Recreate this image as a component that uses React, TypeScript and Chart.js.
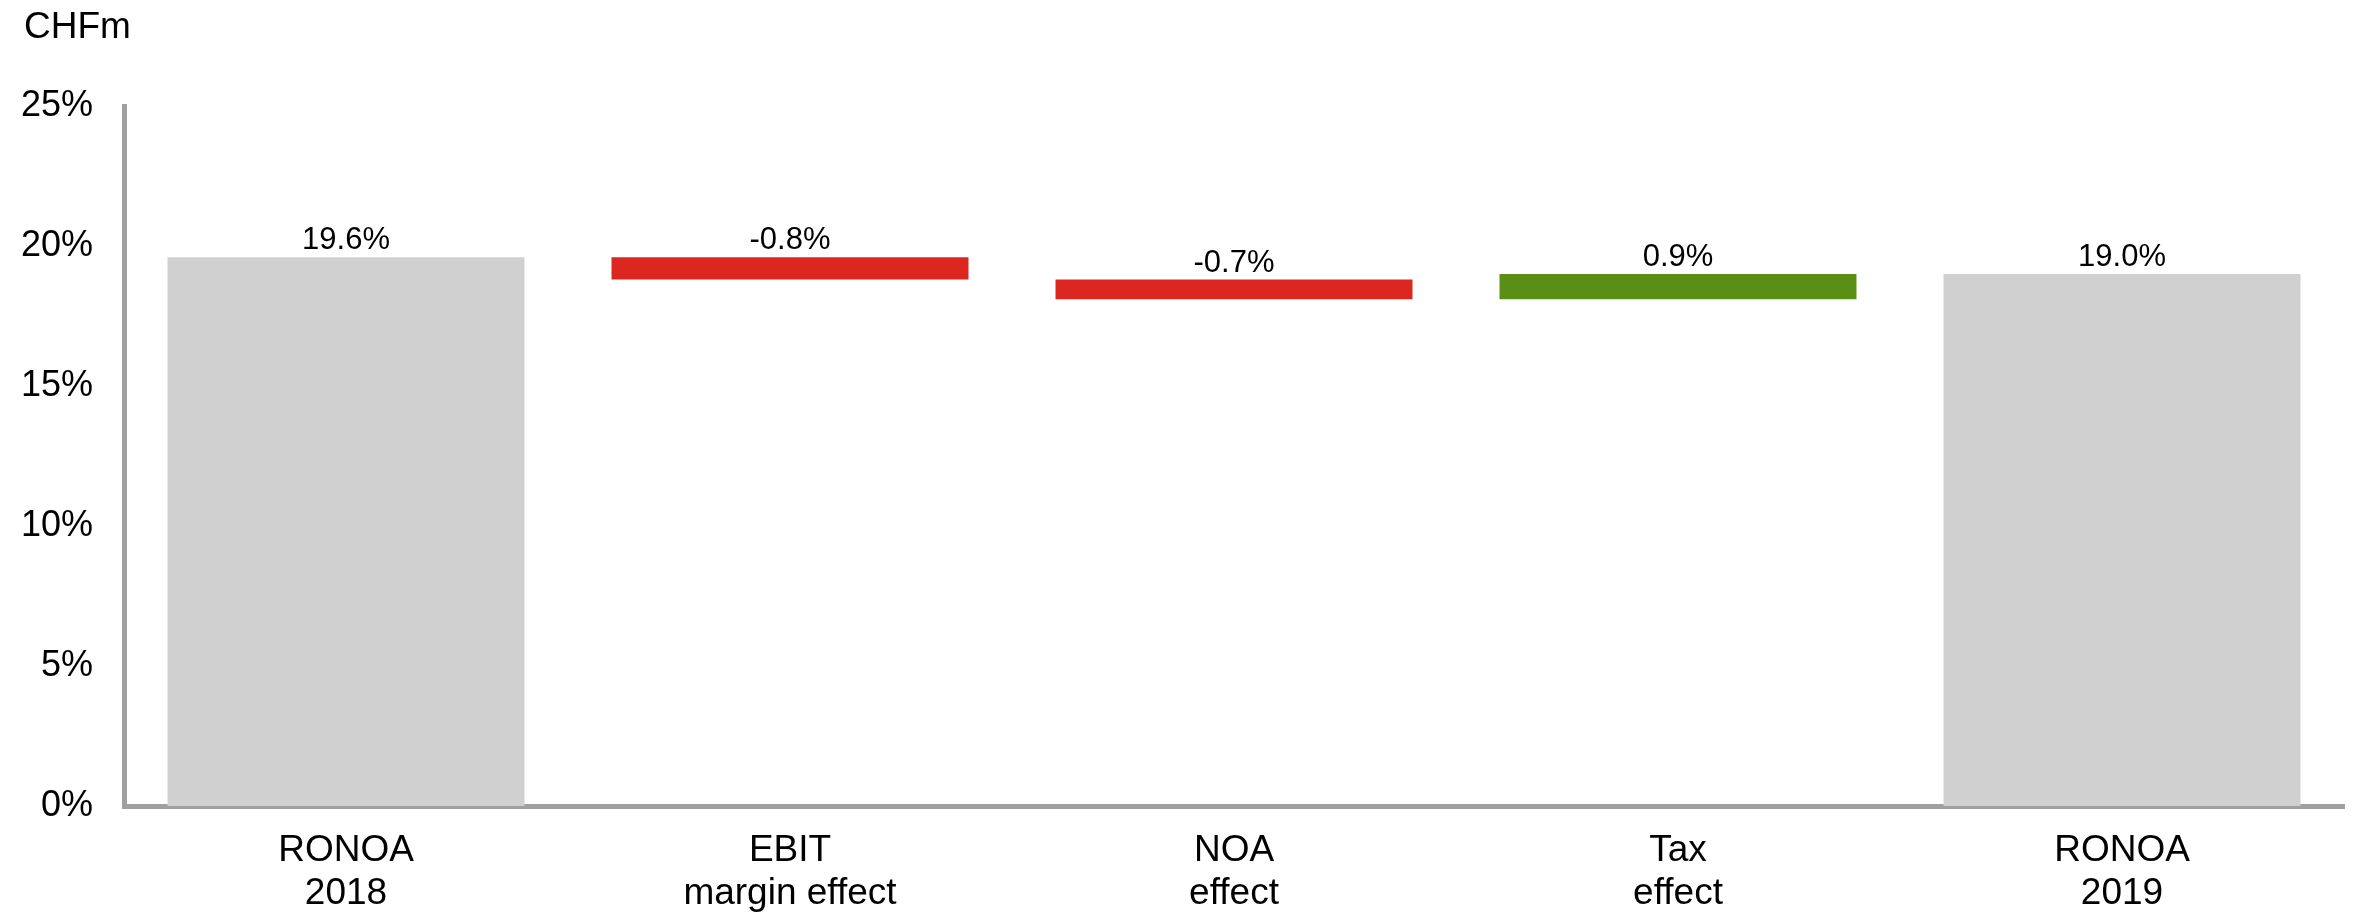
import React, { useEffect, useRef } from "react";
import { Chart, registerables } from "chart.js";

Chart.register(...registerables);

const categories: string[][] = [
  ["RONOA", "2018"],
  ["EBIT", "margin effect"],
  ["NOA", "effect"],
  ["Tax", "effect"],
  ["RONOA", "2019"],
];
const barValues: number[] = [19.6, -0.8, -0.7, 0.9, 19.0];
const barKinds: string[] = ["total", "delta", "delta", "delta", "total"];
const yTicks: number[] = [0, 5, 10, 15, 20, 25];
const unitLabel = "CHFm";

const GRAY = "#d0d0d0";
const RED = "#dc2620";
const GREEN = "#5a8f15";
const AXIS = "#a0a0a0";
const FONT = "'Liberation Sans', Arial, sans-serif";

function buildRanges(): [number, number][] {
  let running = 0;
  return barValues.map((v, i) => {
    if (barKinds[i] === "total") {
      running = v;
      return [0, v] as [number, number];
    }
    const start = running;
    running = Math.round((running + v) * 10) / 10;
    return [start, running] as [number, number];
  });
}

function colorFor(i: number): string {
  if (barKinds[i] === "total") return GRAY;
  return barValues[i] < 0 ? RED : GREEN;
}

const labelPlugin = {
  id: "valueLabels",
  afterDatasetsDraw(chart: any) {
    const ctx = chart.ctx;
    const meta = chart.getDatasetMeta(0);
    ctx.save();
    ctx.font = `31px ${FONT}`;
    ctx.fillStyle = "#000";
    ctx.textAlign = "center";
    ctx.textBaseline = "alphabetic";
    meta.data.forEach((bar: any, i: number) => {
      const top = Math.min(bar.y, bar.base);
      ctx.fillText(barValues[i].toFixed(1) + "%", bar.x, top - 8);
    });
    ctx.restore();
  },
};

const unitPlugin = {
  id: "unitLabel",
  afterDraw(chart: any) {
    const ctx = chart.ctx;
    ctx.save();
    ctx.font = `37px ${FONT}`;
    ctx.fillStyle = "#000";
    ctx.textAlign = "left";
    ctx.textBaseline = "middle";
    ctx.fillText(unitLabel, 24, 28);
    ctx.restore();
  },
};

export default function App() {
  const ref = useRef<HTMLCanvasElement | null>(null);

  useEffect(() => {
    if (!ref.current) return;
    const ranges = buildRanges();
    const chart = new Chart(ref.current, {
      type: "bar",
      data: {
        labels: categories,
        datasets: [
          {
            data: ranges as any,
            backgroundColor: barValues.map((_, i) => colorFor(i)),
            borderWidth: 0,
            borderSkipped: false,
            categoryPercentage: 1,
            barPercentage: 0.804,
          },
        ],
      },
      options: {
        animation: false,
        responsive: true,
        maintainAspectRatio: false,
        devicePixelRatio: 1,
        layout: { padding: { top: 106, left: 0, right: 10, bottom: 0 } },
        plugins: {
          legend: { display: false },
          tooltip: { enabled: false },
          title: { display: false },
        },
        scales: {
          x: {
            grid: { display: false, drawTicks: false },
            border: { display: true, color: AXIS, width: 5 },
            ticks: {
              color: "#000",
              font: { family: FONT, size: 37, lineHeight: 1.17 },
              padding: 23,
              maxRotation: 0,
              autoSkip: false,
            },
            afterFit(scale: any) {
              scale.height = 107;
            },
          },
          y: {
            min: 0,
            max: 25,
            afterBuildTicks(scale: any) {
              scale.ticks = yTicks.map((v) => ({ value: v }));
            },
            grid: { display: false, drawTicks: false },
            border: { display: true, color: AXIS, width: 5 },
            ticks: {
              color: "#000",
              font: { family: FONT, size: 36 },
              padding: 31,
              callback: (v: any) => `${v}%`,
            },
            afterFit(scale: any) {
              scale.width = 124;
            },
          },
        },
      },
      plugins: [labelPlugin, unitPlugin],
    });
    return () => chart.destroy();
  }, []);

  return (
    <div style={{ position: "absolute", left: 0, top: 0, width: 2354, height: 913, background: "#fff" }}>
      <canvas ref={ref} />
    </div>
  );
}
